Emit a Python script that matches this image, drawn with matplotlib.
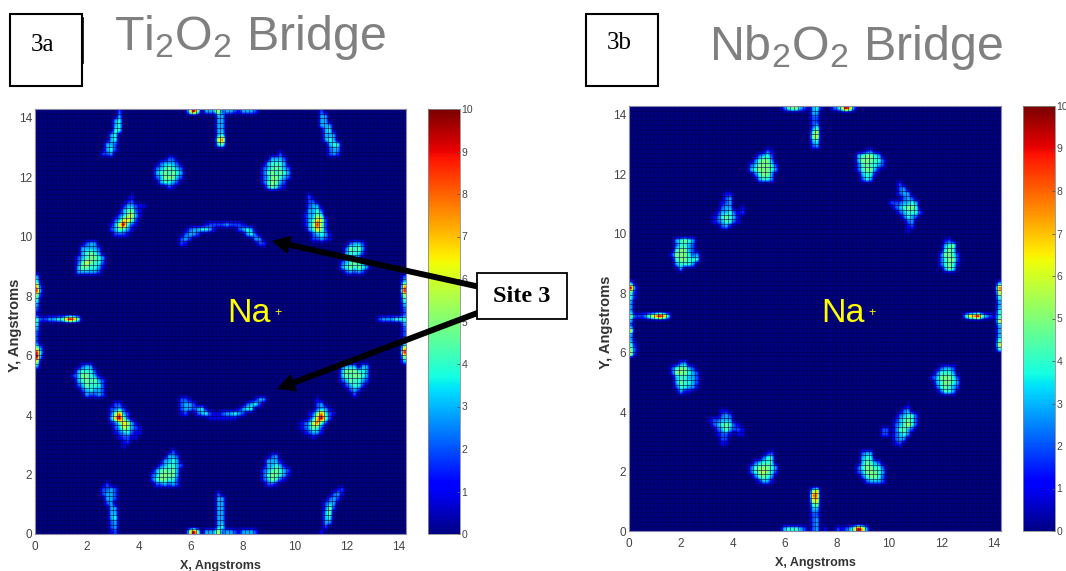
import numpy as np
from matplotlib import pyplot as plt
from matplotlib.patches import Rectangle

plt.rcParams['font.family'] = ['Liberation Sans', 'DejaVu Sans']
plt.rcParams['mathtext.fontset'] = 'custom'
plt.rcParams['mathtext.rm'] = 'Liberation Sans'
plt.rcParams['mathtext.default'] = 'regular'

# density, cell by cell: (column, top row, rows going down)
# one hex digit per cell, a = 10, 0 = empty
ti_upper = [
    (16, 89, ["00002", "00003", "00034", "00034", "00044", "00340", "00340", "03320", "03420", "22300"]),
    (29, 79, ["0002200", "0233320", "2345432", "3454543", "2355532", "0344320", "0002100"]),
    (18, 71, ["000001", "000012", "000133211", "00034521", "00235631", "0236752", "136a421", "235431", "02221"]),
    (10, 61, ["0023300", "0333320", "0345430", "2345543", "2465442", "3554431", "3333320"]),
    (55, 80, ["00002", "0033320", "0344430", "2345432", "2454543", "2355432", "2455320", "0354210"]),
    (69, 89, ["2", "33", "33", "333", "034", "0333", "0343", "00344", "00233", "00232"]),
    (65, 71, ["02", "022", "0233", "03342", "13354", "134762", "135952", "034752", "0023431", "0022321"]),
    (74, 61, ["0023320", "0254530", "0344420", "03332", "2345432", "3454543", "0232320"]),
]
ti_lower = [
    (9, 35, ["00233", "034442", "2355431", "03454532", "02354442", "00234332", "00032232"]),
    (17, 27, ["0022", "02232", "025832", "037a52", "01247631", "002365321", "001234211", "00012211", "000012", "00001"]),
    (28, 17, ["000002", "0000332", "00033430", "00234432", "03454530", "23555530", "24554420", "02232320"]),
    (16, 10, ["02", "2232", "2332", "0332", "023", "0033", "0033", "0034", "0023", "0023", "0012"]),
    (55, 16, ["0023", "03331", "033431", "2345432", "2455431", "235421", "0221"]),
    (69, 9, ["000012", "000231", "00232", "0233", "0252", "035", "034", "033", "02", "1"]),
    (64, 28, ["00001", "000023", "00002331", "001258421", "00137a52", "1236842", "123542", "012331", "0001"]),
    (74, 35, ["2333033", "3555443", "3545543", "2354432", "023442", "00232", "0002"]),
]
ti_arcs = [
    (35, 65, ["0000001222232221"]),
    (35, 64, ["002334431000002343"]),
    (35, 63, ["0233200000000000342"]),
    (35, 62, ["23200000000000000033"]),
    (35, 61, ["210000000000000000022"]),
    (35, 28, ["221000000000000000133"]),
    (35, 27, ["23320000000000002342"]),
    (35, 26, ["233234100000001344"]),
    (35, 25, ["1200234211233432"]),
    (35, 24, ["00000001111111"]),
]
ti_bridges = [
    (37, 89, ["5a503336233213332"]),
    (44, 88, ["33", "33", "33", "33", "34", "68", "45"]),
    (37, 0, ["5a5033362332133 32"]),
    (44, 8, ["2", "33", "33", "33", "33", "33", "33", "34"]),
    (0, 54, ["3", "4", "7", "9", "5", "4", "3", "2", "1", "1", "4", "3", "2", "2", "2", "5", "9", "a", "6", "3"]),
    (1, 52, ["1", "2", "1", "0", "0", "0", "0", "0", "0", "0", "0", "0", "0", "2", "3", "2"]),
    (0, 45, ["42233447a85"]),
    (89, 54, ["2", "3", "7", "9", "5", "4", "3", "2", "2", "4", "3", "2", "2", "2", "2", "6", "9", "5", "3"]),
    (83, 45, ["2333444"]),
]

nb_upper = [
    (29, 80, ["0000210", "002342", "0245530", "2355542", "3455543", "0245530", "003443"]),
    (20, 71, ["00011", "00023", "00123", "00233001", "01334212", "1245431", "1234421", "00231"]),
    (10, 61, ["034543", "024432", "045532", "2555423", "0455444", "034443", "003"]),
    (55, 80, ["0012", "345543", "3555442", "2454432", "245531", "03441", "0243"]),
    (63, 73, ["002", "0023", "00233", "000232", "2223343", "0234554", "00234442", "0002432", "000023", "000012", "00001"]),
    (75, 61, ["012", "0345", "0454", "25542", "24552", "24541", "0354"]),
]
nb_lower = [
    (10, 35, ["0023", "245532", "2555432", "0344332", "0354432", "0244331", "00311"]),
    (19, 25, ["00011", "000232", "122333", "02345421", "002353221", "001221011", "00022", "00011"]),
    (29, 16, ["000012", "000244", "023444", "2455543", "2456542", "024543", "001331"]),
    (55, 16, ["0233", "0344", "035432", "2455442", "2355543", "0245542", "0023332"]),
    (61, 26, ["0000001", "0000023", "000023442", "000134542", "000234642", "22024532", "2202343", "000233", "00012"]),
    (73, 34, ["002332", "024443", "2355542", "0345543", "0245432", "002443"]),
]
nb_bridges = [
    (37, 89, ["245532034100235a72"]),
    (44, 88, ["33", "22", "22", "24", "46", "56", "34", "23"]),
    (37, 0, ["3444320230100212 35a73"]),
    (44, 8, ["57", "88", "67", "45", "33", "22", "23", "23"]),
    (0, 52, ["3", "a", "4", "4", "3", "3", "3", "3", "3", "2", "6", "3", "3", "4", "5", "6"]),
    (1, 51, ["2", "1", "1", "0", "0", "0", "0", "0", "0", "0", "0", "0", "1", "2", "1"]),
    (0, 45, ["5222468a84"]),
    (89, 52, ["3", "8", "6", "4", "3", "3", "4", "4", "6", "3", "3", "3", "4", "6", "4"]),
    (81, 45, ["478a5321"]),
]

colorbar_ticks = list(range(11))
axis_ticks = [0, 2, 4, 6, 8, 10, 12, 14]
n_cells = 90
axis_max = 14.3


def build_grid(groups):
    grid = np.zeros((n_cells, n_cells))
    for group in groups:
        for col, top, rows in group:
            for i, row in enumerate(rows):
                for j, ch in enumerate(row.replace(' ', '')):
                    if ch != '0':
                        grid[top - i, col + j] = int(ch, 16)
    return grid


def draw_panel(fig, grid, main_px, bar_px, ylabel_x):
    W, H = 1066, 571
    x0, x1, y0, y1 = main_px
    ax = fig.add_axes([x0 / W, 1 - y1 / H, (x1 - x0) / W, (y1 - y0) / H])
    im = ax.imshow(grid, cmap='jet', vmin=0, vmax=10, origin='lower', aspect='auto',
                   extent=(0, axis_max, 0, axis_max), interpolation='bilinear')
    # faint faceting between the cells
    edges = np.linspace(0, axis_max, n_cells + 1)
    ax.vlines(edges, 0, axis_max, color='#00004c', lw=0.6, alpha=0.65)
    ax.hlines(edges, 0, axis_max, color='#00004c', lw=0.6, alpha=0.65)
    ax.set_xlim(0, axis_max)
    ax.set_ylim(0, axis_max)
    ax.set_xticks(axis_ticks)
    ax.set_yticks(axis_ticks)
    ax.tick_params(length=0, labelsize=8.5, labelcolor='#444444')
    ax.tick_params(axis='x', pad=5)
    ax.tick_params(axis='y', pad=2)
    ax.set_xlabel('X, Angstroms', fontsize=9, fontweight='bold', color='#333333', labelpad=5)
    ax.set_ylabel('Y, Angstroms', fontsize=10.5, fontweight='bold', color='#333333')
    ax.yaxis.set_label_coords(ylabel_x, 0.49)
    for spine in ax.spines.values():
        spine.set_color('#8a8aa8')
        spine.set_linewidth(0.8)

    bx0, bx1 = bar_px
    cax = fig.add_axes([bx0 / W, 1 - y1 / H, (bx1 - bx0) / W, (y1 - y0) / H])
    bar = fig.colorbar(im, cax=cax, ticks=colorbar_ticks)
    bar.solids.set_edgecolor('face')
    bar.ax.tick_params(length=2, direction='in', labelsize=7.5, labelcolor='#444444',
                       color='#555555', pad=1, width=0.6)
    bar.outline.set_edgecolor('#8a8a8a')
    bar.outline.set_linewidth(0.6)


def main():
    fig = plt.figure(figsize=(10.66, 5.71), dpi=100)

    draw_panel(fig, build_grid([ti_upper, ti_lower, ti_arcs, ti_bridges]),
               (35, 406, 109, 534), (428, 460), -0.035)
    draw_panel(fig, build_grid([nb_upper, nb_lower, nb_bridges]),
               (629, 1001, 106, 531), (1023, 1055), -0.042)

    # overlay in picture pixels for the pasted-on labels
    over = fig.add_axes([0, 0, 1, 1])
    over.set_xlim(0, 1066)
    over.set_ylim(571, 0)
    over.axis('off')

    over.text(114, 50, r'$Ti_2O_2$ Bridge', fontsize=34.8, color='#808080')
    over.text(709, 60, r'$Nb_2O_2$ Bridge', fontsize=34.8, color='#808080')

    over.add_patch(Rectangle((10, 14), 72, 72, fc='white', ec='black', lw=1.5))
    over.plot([83, 83], [18, 63], color='black', lw=1.2)
    over.add_patch(Rectangle((586, 14), 72, 72, fc='white', ec='black', lw=1.5))
    over.text(31, 51, '3a', family='Liberation Serif', fontsize=18, color='black')
    over.text(607, 49, '3b', family='Liberation Serif', fontsize=18, color='black')

    for x in (227, 821):
        over.text(x, 322, 'Na', fontsize=24.5, color='#ffff00')
        over.text(x + 47, 316, '+', fontsize=9, color='#ffff00')

    style = dict(facecolor='black', edgecolor='black', width=4.3, headwidth=13.5,
                 headlength=13, linewidth=0)
    over.annotate('', xy=(272, 241), xytext=(480, 287), arrowprops=style)
    over.annotate('', xy=(277, 389), xytext=(480, 312), arrowprops=style)

    over.add_patch(Rectangle((477, 273), 90, 46, fc='white', ec='black', lw=1.3, zorder=3))
    over.text(522, 296, 'Site 3', family='Liberation Serif', fontweight='bold', fontsize=17.5,
              ha='center', va='center', color='black', zorder=4)

    fig.savefig('out.png', dpi=100)


main()
